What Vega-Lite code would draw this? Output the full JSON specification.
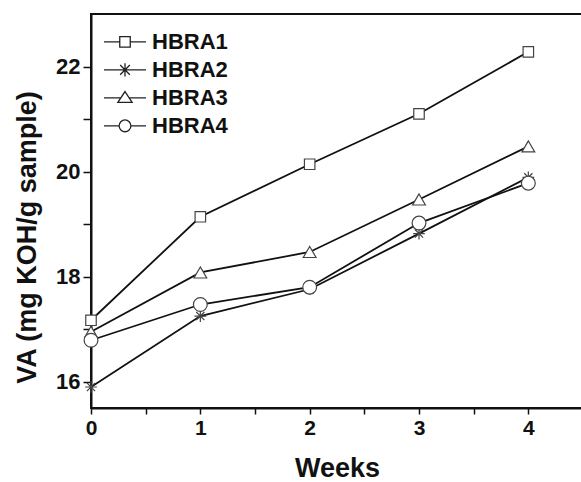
{
  "$schema": "https://vega.github.io/schema/vega-lite/v6.json",
  "width": 492,
  "height": 394,
  "autosize": "none",
  "padding": {"left": 91, "top": 14, "right": 0, "bottom": 74},
  "background": "white",
  "config": {
    "view": {"stroke": "#111", "strokeWidth": 2},
    "font": "Liberation Sans",
    "axis": {
      "domainColor": "#111", "domainWidth": 2, "tickColor": "#111", "tickWidth": 1.5,
      "grid": false, "labelFont": "Liberation Sans", "labelFontWeight": "bold", "labelColor": "#111",
      "titleFont": "Liberation Sans", "titleFontWeight": "bold", "titleColor": "#111"
    }
  },
  "data": {"values": [
    {"week": 0, "series": "HBRA1", "va": 17.17},
    {"week": 1, "series": "HBRA1", "va": 19.14},
    {"week": 2, "series": "HBRA1", "va": 20.14},
    {"week": 3, "series": "HBRA1", "va": 21.1},
    {"week": 4, "series": "HBRA1", "va": 22.28},
    {"week": 0, "series": "HBRA2", "va": 15.9},
    {"week": 1, "series": "HBRA2", "va": 17.25},
    {"week": 2, "series": "HBRA2", "va": 17.76},
    {"week": 3, "series": "HBRA2", "va": 18.82},
    {"week": 4, "series": "HBRA2", "va": 19.89},
    {"week": 0, "series": "HBRA3", "va": 16.95},
    {"week": 1, "series": "HBRA3", "va": 18.08},
    {"week": 2, "series": "HBRA3", "va": 18.47},
    {"week": 3, "series": "HBRA3", "va": 19.47},
    {"week": 4, "series": "HBRA3", "va": 20.48},
    {"week": 0, "series": "HBRA4", "va": 16.79},
    {"week": 1, "series": "HBRA4", "va": 17.47},
    {"week": 2, "series": "HBRA4", "va": 17.8},
    {"week": 3, "series": "HBRA4", "va": 19.02},
    {"week": 4, "series": "HBRA4", "va": 19.78}
  ]},
  "encoding": {
    "x": {"field": "week", "type": "quantitative",
      "scale": {"domain": [0, 4.5], "nice": false, "zero": false},
      "axis": {"title": "Weeks", "values": [0, 0.5, 1, 1.5, 2, 2.5, 3, 3.5, 4],
        "labelExpr": "datum.value % 1 == 0 ? format(datum.value, 'd') : ''",
        "tickSize": 6, "labelPadding": 3, "labelFontSize": 21,
        "titleFontSize": 27, "titleY": 47, "titleBaseline": "top", "labelFlush": false}},
    "y": {"field": "va", "type": "quantitative",
      "scale": {"domain": [15.5, 23], "nice": false, "zero": false},
      "axis": {"title": "VA (mg KOH/g sample)", "values": [16, 17, 18, 19, 20, 21, 22],
        "labelExpr": "datum.value % 2 == 0 ? datum.label : ''",
        "tickSize": 8, "labelPadding": 3, "labelFontSize": 22,
        "titleFontSize": 27, "titleX": -50, "titleY": 223, "titleAngle": 270,
        "titleAlign": "center", "titleBaseline": "bottom", "labelFlush": false}}
  },
  "layer": [
    {"mark": {"type": "line", "color": "#111", "strokeWidth": 1.8},
     "encoding": {"detail": {"field": "series"}}},
    {"mark": {"type": "point", "filled": true, "fill": "white", "stroke": "#444", "strokeWidth": 1.2, "size": 110, "opacity": 1},
     "encoding": {
       "size": {"field": "series", "legend": null,
         "scale": {"domain": ["HBRA1", "HBRA2", "HBRA3", "HBRA4"], "range": [110, 190, 130, 120]}},
       "shape": {"field": "series", "legend": null,
       "scale": {"domain": ["HBRA1", "HBRA2", "HBRA3", "HBRA4"],
         "range": ["square", "M-1,0H1M0,-1V1M-0.7,-0.7L0.7,0.7M-0.7,0.7L0.7,-0.7", "triangle-up", "circle"]}}}},
    {"transform": [{"filter": "datum.week < 0"}],
     "mark": {"type": "point", "filled": false, "stroke": "#222", "color": "#222", "strokeWidth": 1.3},
     "encoding": {"shape": {"field": "series",
       "scale": {"domain": ["HBRA1", "HBRA2", "HBRA3", "HBRA4"],
         "range": [
           "M-1,0H-0.25M0.25,0H1M-0.25,-0.25H0.25V0.25H-0.25Z",
           "M-1,0H1M0,-0.32V0.32M-0.23,-0.23L0.23,0.23M-0.23,0.23L0.23,-0.23",
           "M-1,0H-0.2M0.2,0H1M0,-0.3L0.34,0.22L-0.34,0.22Z",
           "M-1,0H-0.28M0.28,0H1M-0.28,0A0.28,0.28 0 1 0 0.28,0A0.28,0.28 0 1 0 -0.28,0Z"]},
       "legend": {"title": null, "orient": "none", "legendX": 12, "legendY": 14,
         "symbolSize": 1764, "symbolStrokeWidth": 1.3, "symbolStrokeColor": "#222",
         "symbolOpacity": 1, "labelFont": "Liberation Sans",
         "labelFontSize": 22, "labelFontWeight": "bold", "labelColor": "#111",
         "labelOffset": 5, "rowPadding": 0, "clipHeight": 27.7}}}}
  ],
  "resolve": {"scale": {"shape": "independent", "size": "independent"}, "legend": {"shape": "independent"}}
}
